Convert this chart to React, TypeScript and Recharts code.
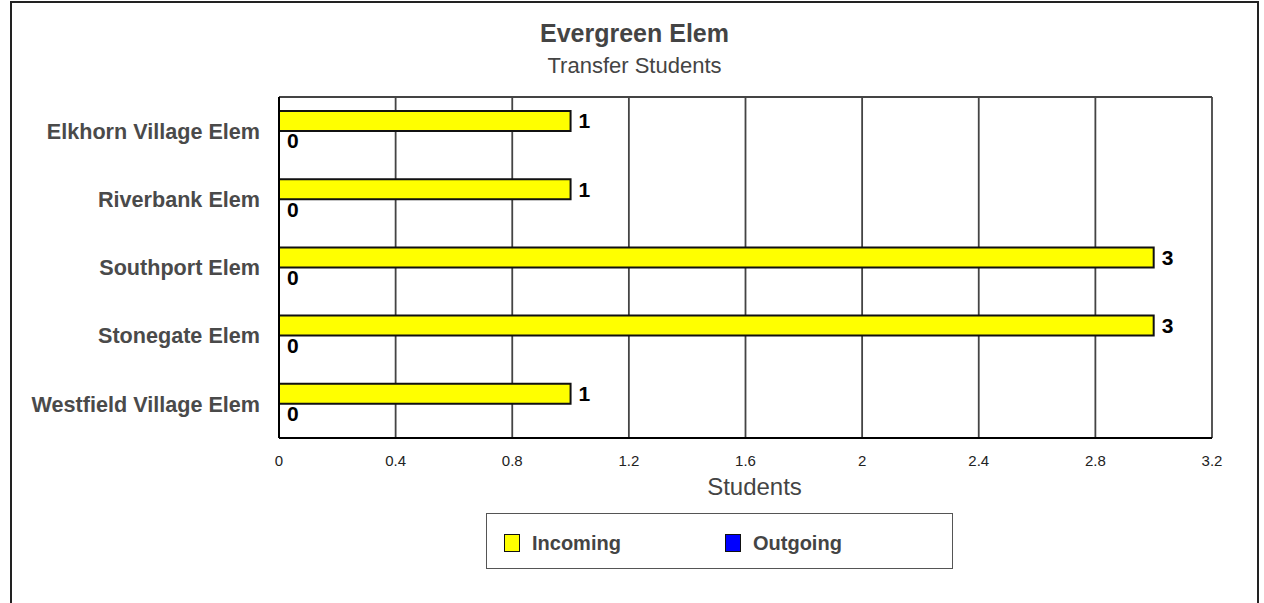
import React from "react";
import {
  BarChart,
  Bar,
  XAxis,
  YAxis,
  CartesianGrid,
  LabelList,
} from "recharts";

const schools = [
  "Elkhorn Village Elem",
  "Riverbank Elem",
  "Southport Elem",
  "Stonegate Elem",
  "Westfield Village Elem",
];
const incoming = [1, 1, 3, 3, 1];
const outgoing = [0, 0, 0, 0, 0];
const xTicks = [0, 0.4, 0.8, 1.2, 1.6, 2, 2.4, 2.8, 3.2];

const series = [
  { key: "incoming", name: "Incoming", color: "#ffff00" },
  { key: "outgoing", name: "Outgoing", color: "#0000ff" },
];

const chartData = schools.map((school, i) => ({
  school,
  incoming: incoming[i],
  outgoing: outgoing[i],
}));

const font = '"Liberation Sans", Arial, Helvetica, sans-serif';

const App = () => {
  return (
    <div style={{ position: "absolute", left: 0, top: 0, width: 1264, height: 603, overflow: "hidden", fontFamily: font }}>
      <div
        style={{
          position: "absolute",
          left: 10,
          top: 1,
          width: 1249,
          height: 700,
          boxSizing: "border-box",
          border: "2px solid #222",
        }}
      />

      <div
        style={{
          position: "absolute",
          left: 10,
          width: 1249,
          top: 21,
          textAlign: "center",
          fontSize: 25,
          lineHeight: "25px",
          fontWeight: "bold",
          color: "#444",
        }}
      >
        Evergreen Elem
      </div>
      <div
        style={{
          position: "absolute",
          left: 10,
          width: 1249,
          top: 55,
          textAlign: "center",
          fontSize: 22,
          lineHeight: "22px",
          color: "#444",
        }}
      >
        Transfer Students
      </div>

      <div style={{ position: "absolute", left: 0, top: 0 }}>
        <BarChart
          width={1264}
          height={603}
          data={chartData}
          layout="vertical"
          margin={{ top: 97, right: 52, bottom: 95, left: 19 }}
          barSize={20}
          barGap={0}
        >
          <CartesianGrid
            stroke="#444"
            strokeWidth={1.8}
            fill="none"
            horizontalCoordinatesGenerator={({ offset }: any) => [offset.top]}
          />
          <XAxis
            type="number"
            domain={[0, 3.2]}
            ticks={xTicks}
            tickLine={false}
            tickMargin={11}
            height={70}
            axisLine={{ stroke: "#000", strokeWidth: 2 }}
            tick={{ fontSize: 15, fill: "#222", fontFamily: font }}
            label={{
              value: "Students",
              position: "insideTop",
              offset: 40,
              dx: 9,
              fill: "#444",
              fontSize: 24,
              fontFamily: font,
            }}
          />
          <YAxis
            type="category"
            dataKey="school"
            width={260}
            tickLine={false}
            tickMargin={13}
            axisLine={{ stroke: "#000", strokeWidth: 2 }}
            tick={{ fontSize: 21.6, fontWeight: "bold", fill: "#4a4a4a", fontFamily: font }}
          />
          {series.map((s) => (
            <Bar
              key={s.key}
              dataKey={s.key}
              name={s.name}
              fill={s.color}
              stroke={s.key === "outgoing" ? "none" : "#111"}
              strokeWidth={2}
              minPointSize={s.key === "outgoing" ? 0.01 : 0}
              isAnimationActive={false}
            >
              <LabelList
                dataKey={s.key}
                position="right"
                offset={8}
                fill="#000"
                fontSize={21}
                fontWeight="bold"
                fontFamily={font}
              />
            </Bar>
          ))}
        </BarChart>
      </div>

      <div
        style={{
          position: "absolute",
          left: 486,
          top: 513,
          width: 467,
          height: 56,
          boxSizing: "border-box",
          border: "1.5px solid #555",
        }}
      >
        {series.map((s, i) => (
          <div
            key={s.key}
            style={{
              position: "absolute",
              left: 17 + i * 221,
              top: 19,
              display: "flex",
              alignItems: "center",
            }}
          >
            <div
              style={{
                width: 14,
                height: 16,
                background: s.color,
                border: "1.5px solid #111",
              }}
            />
            <span
              style={{
                marginLeft: 12,
                fontSize: 20,
                lineHeight: "20px",
                fontWeight: "bold",
                color: "#444",
              }}
            >
              {s.name}
            </span>
          </div>
        ))}
      </div>
    </div>
  );
};

export default App;
